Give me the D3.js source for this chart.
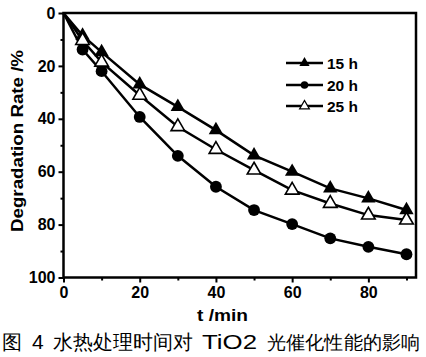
<!DOCTYPE html>
<html><head><meta charset="utf-8">
<script src="https://cdn.jsdelivr.net/npm/d3@7"></script>
<style>
body{margin:0;background:#fff;}
svg{display:block;}
text{font-family:"Liberation Sans",Arial,sans-serif;}
</style></head>
<body>
<svg id="c" width="426" height="357"></svg>
<script>
const times = [0, 5, 10, 20, 30, 40, 50, 60, 70, 80, 90];
const s15h = [0, 8.5, 14.8, 27, 35.5, 44.3, 53.8, 60, 66.3, 70.1, 74.5];
const s20h = [0, 13.8, 22, 39.3, 54, 65.7, 74.5, 79.8, 85.2, 88.4, 91.2];
const s25h = [0, 10.4, 18.6, 31.1, 43, 51.6, 59.4, 67, 72, 76.4, 78.3];
const seriesNames = ["15 h", "20 h", "25 h"];
const xMajor = [0, 20, 40, 60, 80];
const xMinor = [10, 30, 50, 70, 90];
const yMajor = [0, 20, 40, 60, 80, 100];
const yMinor = [10, 30, 50, 70, 90];

const svg = d3.select("#c");
const L = 63.5, R = 416, T = 13, B = 277.5;
const x = d3.scaleLinear().domain([0, 92.5]).range([L, R]);
const y = d3.scaleLinear().domain([0, 100]).range([T, B]);

// axes
const xAx = svg.append("g").attr("transform", `translate(0,${B})`)
  .call(d3.axisBottom(x).tickValues(xMajor).tickSize(5).tickPadding(4).tickFormat(d3.format("d")));
const xMin = svg.append("g").attr("transform", `translate(0,${B})`)
  .call(d3.axisBottom(x).tickValues(xMinor).tickSize(3).tickFormat(""));
const yAx = svg.append("g").attr("transform", `translate(${L},0)`)
  .call(d3.axisLeft(y).tickValues(yMajor).tickSize(5).tickPadding(3).tickFormat(d3.format("d")));
const yMin = svg.append("g").attr("transform", `translate(${L},0)`)
  .call(d3.axisLeft(y).tickValues(yMinor).tickSize(3).tickFormat(""));
[xAx, xMin, yAx, yMin].forEach(g => {
  g.select(".domain").remove();
  g.selectAll("line").attr("stroke", "#000").attr("stroke-width", 2);
  g.selectAll("text").attr("fill", "#000").attr("font-size", 16).attr("font-weight", "bold")
    .attr("font-family", '"Liberation Sans",Arial,sans-serif');
});

// frame
svg.append("rect").attr("x", L).attr("y", T).attr("width", R - L).attr("height", B - T)
  .attr("fill", "none").attr("stroke", "#000").attr("stroke-width", 2.5);

const data = [s15h, s20h, s25h];
const line = d3.line().x((d, i) => x(times[i])).y(d => y(d));
data.forEach(s => {
  svg.append("path").attr("d", line(s)).attr("fill", "none")
    .attr("stroke", "#000").attr("stroke-width", 2.5);
});

const tri = d3.symbol().type(d3.symbolTriangle).size(90);
const circ = d3.symbol().type(d3.symbolCircle).size(110);
const triO = d3.symbol().type(d3.symbolTriangle).size(80);
function marker(g, k, cx, cy) {
  if (k === 0) g.append("path").attr("d", tri()).attr("transform", `translate(${cx},${cy})`).attr("fill", "#000");
  else if (k === 1) g.append("path").attr("d", circ()).attr("transform", `translate(${cx},${cy})`).attr("fill", "#000");
  else g.append("path").attr("d", triO()).attr("transform", `translate(${cx},${cy})`).attr("fill", "#fff").attr("stroke", "#000").attr("stroke-width", 1.6);
}
const mg = svg.append("g");
data.forEach((s, k) => {
  s.forEach((v, i) => { if (i > 0) marker(mg, k, x(times[i]), y(v)); });
});

// legend
const legY = [63, 85, 106];
seriesNames.forEach((n, k) => {
  svg.append("line").attr("x1", 286).attr("x2", 323).attr("y1", legY[k]).attr("y2", legY[k])
    .attr("stroke", "#000").attr("stroke-width", 2.5);
  const lg = svg.append("g");
  if (k === 0) lg.append("path").attr("d", d3.symbol().type(d3.symbolTriangle).size(45)()).attr("transform", `translate(304.5,${legY[k]})`).attr("fill", "#000");
  else if (k === 1) lg.append("path").attr("d", d3.symbol().type(d3.symbolCircle).size(45)()).attr("transform", `translate(304.5,${legY[k]})`).attr("fill", "#000");
  else lg.append("path").attr("d", d3.symbol().type(d3.symbolTriangle).size(40)()).attr("transform", `translate(304.5,${legY[k]})`).attr("fill", "#fff").attr("stroke", "#000").attr("stroke-width", 1.3);
  svg.append("text").attr("x", 327).attr("y", legY[k] + 5.5).attr("font-size", 15.5).attr("font-weight", "bold").text(n);
});

// axis titles
svg.append("text").attr("transform", "translate(23,141) rotate(-90)").attr("text-anchor", "middle")
  .attr("font-size", 16.5).attr("font-weight", "bold").attr("textLength", 182).attr("lengthAdjust", "spacingAndGlyphs")
  .text("Degradation Rate /%");
svg.append("text").attr("x", 197).attr("y", 321).attr("font-size", 16).attr("font-weight", "bold")
  .attr("textLength", 51).attr("lengthAdjust", "spacingAndGlyphs").text("t /min");

// caption
const cap = svg.append("g").attr("font-size", 20);
const cjk = '"Noto Sans CJK SC",sans-serif';
cap.append("text").attr("x", 2).attr("y", 349).attr("font-family", cjk).text("图");
cap.append("text").attr("x", 32).attr("y", 349).attr("font-size", 21).text("4");
cap.append("text").attr("x", 53).attr("y", 349).attr("font-family", cjk).attr("textLength", 140).attr("lengthAdjust", "spacingAndGlyphs").text("水热处理时间对");
cap.append("text").attr("x", 202).attr("y", 349).attr("font-size", 21).attr("textLength", 55).attr("lengthAdjust", "spacingAndGlyphs").text("TiO2");
cap.append("text").attr("x", 267).attr("y", 349).attr("font-family", cjk).attr("font-size", 19.2).attr("textLength", 153).attr("lengthAdjust", "spacingAndGlyphs").text("光催化性能的影响");
</script>
</body></html>
